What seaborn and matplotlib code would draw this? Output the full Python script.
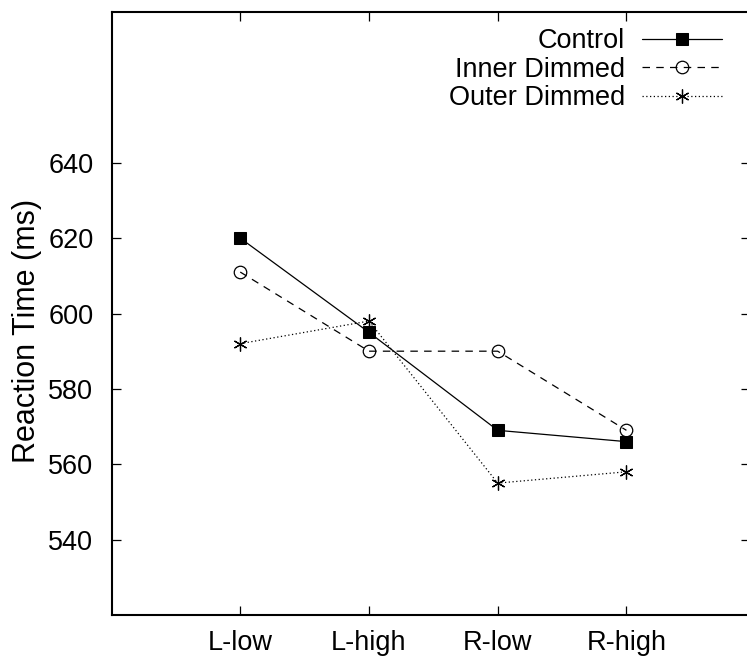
import matplotlib
matplotlib.use("Agg")
import matplotlib.pyplot as plt
import seaborn as sns
import pandas as pd

conditions = ["L-low", "L-high", "R-low", "R-high"]
control = [620, 595, 569, 566]
inner_dimmed = [611, 590, 590, 569]
outer_dimmed = [592, 598, 555, 558]
yticks = [540, 560, 580, 600, 620, 640]

sns.set_theme(style="white")
plt.rcParams["font.family"] = ["Liberation Sans", "DejaVu Sans"]
plt.rcParams["text.color"] = "black"
plt.rcParams["axes.labelcolor"] = "black"

FS = 19.5

fig = plt.figure(figsize=(7.47, 6.58), dpi=100)
ax = fig.add_axes([111.5 / 747, 1 - 615 / 658, (750 - 111.5) / 747, (615 - 12) / 658])

xpos = list(range(len(conditions)))
df = pd.DataFrame({"x": xpos, "Control": control,
                   "Inner Dimmed": inner_dimmed, "Outer Dimmed": outer_dimmed})

sns.lineplot(data=df, x="x", y="Control", ax=ax, color="black", lw=0.9,
             marker="s", markersize=9, markerfacecolor="black",
             markeredgecolor="black", label="Control")
sns.lineplot(data=df, x="x", y="Inner Dimmed", ax=ax, color="black", lw=0.9,
             linestyle=(0, (6, 5)), marker="o", markersize=9,
             markerfacecolor="none", markeredgecolor="black", markeredgewidth=0.9,
             label="Inner Dimmed")
sns.lineplot(data=df, x="x", y="Outer Dimmed", ax=ax, color="black", lw=0.9,
             linestyle=(0, (1, 2)), marker=(6, 2, 0), markersize=10,
             markeredgecolor="black", markeredgewidth=0.9, label="Outer Dimmed")

ax.set_xlim(-1, 3.96)
ax.set_ylim(520, 680)
ax.set_xticks(xpos)
ax.set_xticklabels(conditions)
ax.set_yticks(yticks)
ax.set_xlabel("")
ax.set_ylabel("Reaction Time (ms)", fontsize=22, color="black")
ax.yaxis.set_label_coords(-0.1085, (615 - 331) / 603)

for s in ax.spines.values():
    s.set_visible(True)
    s.set_color("black")
    s.set_linewidth(1.5)

ax.tick_params(axis="x", which="both", direction="in", length=6.5, width=0.9,
               top=True, bottom=True, labelsize=FS, pad=10.5, colors="black")
ax.tick_params(axis="y", which="both", direction="in", length=6.5, width=0.9,
               left=True, right=True, labelsize=FS, pad=13, colors="black")

leg = ax.legend(loc="upper right", bbox_to_anchor=(722 / 747, 1 - 28 / 658),
                bbox_transform=fig.transFigure, frameon=False, markerfirst=False,
                fontsize=FS, handlelength=2.96, handletextpad=0.63,
                labelspacing=0.1, borderpad=0, borderaxespad=0)
for t in leg.get_texts():
    t.set_color("black")

fig.savefig("out.png", dpi=100)
